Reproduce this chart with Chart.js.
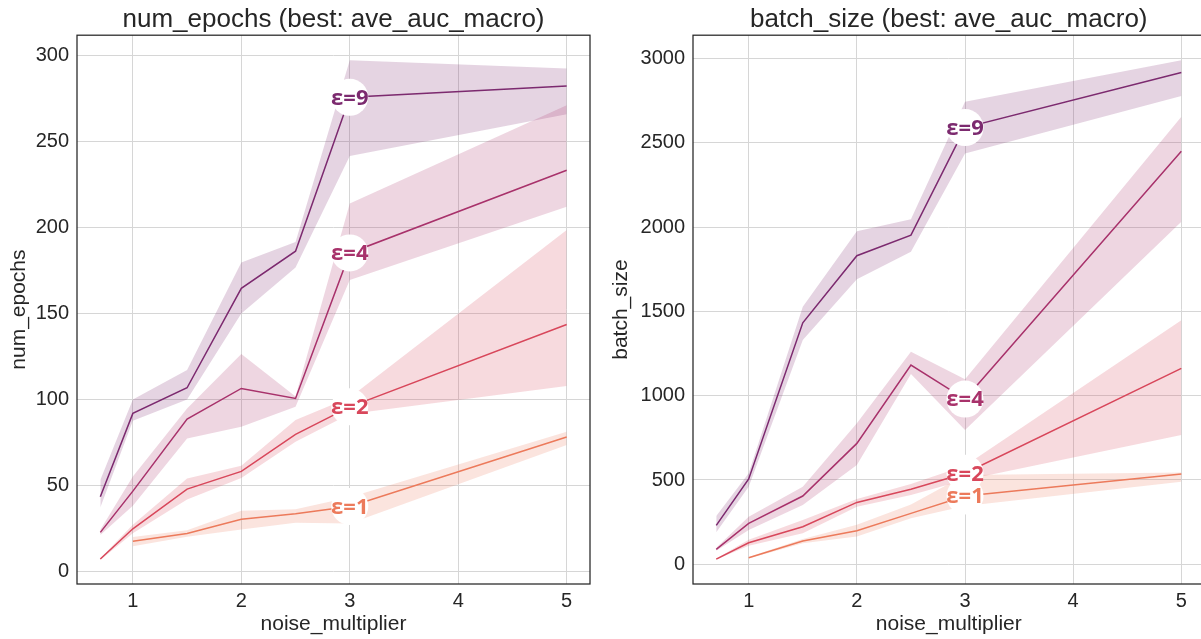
<!DOCTYPE html>
<html>
<head>
<meta charset="utf-8">
<script src="https://cdn.jsdelivr.net/npm/chart.js@4.4.0/dist/chart.umd.min.js"></script>
<style>
    html, body { margin: 0; padding: 0; background: #fff; overflow: hidden; width: 1201px; height: 639px; }
    #c1 { position: absolute; left: 0; top: 0; }
    #c2 { position: absolute; left: 600px; top: 0; }
</style>
</head>
<body>
<canvas id="c1" width="600" height="639"></canvas>
<canvas id="c2" width="620" height="639"></canvas>
<script>
// noise_multiplier values (eps=1 starts at 1)
const noiseAll = [0.7, 1, 1.5, 2, 2.5, 3, 5];
const noiseEps1 = [1, 1.5, 2, 2.5, 3, 5];
const epsLabels = ['ε=1', 'ε=2', 'ε=4', 'ε=9'];
const epsColors = ['#ec7a5b', '#d8475b', '#a8326b', '#7c2a6f'];

// num_epochs: mean + band (lo/hi)
const epochsMean1 = [17.4, 21.9, 30.2, 33.3, 37.6, 78];
const epochsLo1 = [14.5, 20, 24.2, 28.1, 27.7, 73.3];
const epochsHi1 = [19.8, 23.7, 35.1, 35.9, 43, 81];
const epochsMean2 = [7, 24.6, 47.7, 58, 79.5, 95.5, 143.4];
const epochsLo2 = [6.5, 22, 41.7, 54.2, 75.2, 91.3, 107.6];
const epochsHi2 = [7.5, 27, 53.9, 61.2, 87.8, 101, 198.3];
const epochsMean4 = [22.5, 46.5, 88.4, 106.2, 100.4, 185, 233.1];
const epochsLo4 = [21, 38, 77.1, 83.9, 95.5, 169.2, 211.8];
const epochsHi4 = [24, 55, 94.6, 126.2, 101.5, 213.8, 270.9];
const epochsMean9 = [43.2, 91.7, 106.6, 164.4, 186, 275.5, 282];
const epochsLo9 = [37, 87.4, 99.8, 149.8, 176.6, 241.3, 265.7];
const epochsHi9 = [53, 99.8, 116.9, 179.5, 191.3, 297, 292.3];

// batch_size: mean + band (lo/hi)
const batchMean1 = [39, 138, 199, 302, 405, 535];
const batchLo1 = [35, 125, 165, 273, 346, 490];
const batchHi1 = [43, 150, 235, 355, 530, 545];
const batchMean2 = [31, 128, 223, 367, 445, 540, 1162];
const batchLo2 = [28, 110, 184, 342, 411, 500, 767];
const batchHi2 = [34, 146, 263, 387, 476, 585, 1448];
const batchMean4 = [89, 243, 405, 717, 1182, 980, 2450];
const batchLo4 = [80, 203, 352, 589, 1128, 796, 2031];
const batchHi4 = [98, 282, 460, 836, 1260, 1097, 2654];
const batchMean9 = [231, 506, 1432, 1830, 1952, 2590, 2917];
const batchLo9 = [190, 460, 1330, 1690, 1853, 2437, 2778];
const batchHi9 = [286, 540, 1527, 1976, 2047, 2743, 2990];

const epochsTicks = [0, 50, 100, 150, 200, 250, 300];
const batchTicks = [0, 500, 1000, 1500, 2000, 2500, 3000];
const xTicks = [1, 2, 3, 4, 5];
const labelAt = 3;

const ink = '#262626';
const gridColor = '#d6d6d6';
const sans = "'Liberation Sans', Arial, sans-serif";

function pts(xs, ys) {
    return xs.map((x, i) => ({x, y: ys[i]}));
}

function hexA(hex, a) {
    const n = parseInt(hex.slice(1), 16);
    return `rgba(${n >> 16},${(n >> 8) & 255},${n & 255},${a})`;
}

// three datasets per series: band top, band bottom (fill to top), line
function seriesSets(xs, mean, lo, hi, idx) {
    const c = epsColors[idx];
    return [
        {data: pts(xs, hi), borderWidth: 0, pointRadius: 0, fill: false, order: 2},
        {data: pts(xs, lo), borderWidth: 0, pointRadius: 0, fill: '-1', backgroundColor: hexA(c, 0.2), order: 2},
        {data: pts(xs, mean), borderColor: c, borderWidth: 1.5, pointRadius: 0, fill: false, order: 1, epsLabel: epsLabels[idx]},
    ];
}

// white circles with the ε labels at x=3
const epsLabelPlugin = {
    id: 'epsLabels',
    afterDatasetsDraw(chart) {
        const ctx = chart.ctx;
        const xs = chart.scales.x, ys = chart.scales.y;
        chart.data.datasets.forEach(ds => {
            if (!ds.epsLabel) return;
            const p = ds.data.find(d => d.x === labelAt);
            const px = xs.getPixelForValue(p.x), py = ys.getPixelForValue(p.y);
            ctx.save();
            ctx.fillStyle = '#fff';
            ctx.beginPath();
            ctx.arc(px, py, 18.5, 0, Math.PI * 2);
            ctx.fill();
            ctx.font = "bold 22px 'Open Sans', sans-serif";
            ctx.textAlign = 'center';
            ctx.textBaseline = 'middle';
            ctx.fillStyle = ds.borderColor;
            ctx.fillText(ds.epsLabel, px, py + 1);
            ctx.restore();
        });
    }
};

const framePlugin = {
    id: 'frame',
    afterDraw(chart) {
        const a = chart.chartArea, ctx = chart.ctx;
        ctx.save();
        ctx.strokeStyle = ink;
        ctx.lineWidth = 1.25;
        ctx.strokeRect(a.left, a.top, a.right - a.left, a.bottom - a.top);
        ctx.restore();
    }
};

function makeChart(id, opts) {
    return new Chart(document.getElementById(id), {
        type: 'line',
        data: {datasets: opts.datasets},
        options: {
            responsive: false,
            animation: false,
            layout: {padding: {left: 0, right: opts.padRight, top: 0, bottom: 0}},
            plugins: {
                legend: {display: false},
                tooltip: {enabled: false},
                title: {
                    display: true, text: opts.title, color: ink, fullSize: false,
                    font: {family: sans, size: 26, weight: 'normal'}, padding: {top: 4, bottom: 0}
                },
            },
            scales: {
                x: {
                    type: 'linear', min: 0.485, max: 5.215,
                    afterBuildTicks: ax => { ax.ticks = xTicks.map(v => ({value: v})); },
                    afterFit: ax => { ax.height = 55; },
                    grid: {color: gridColor, drawTicks: false},
                    border: {display: false},
                    ticks: {color: ink, font: {family: sans, size: 20}, padding: 5, callback: v => String(v)},
                    title: {display: true, text: 'noise_multiplier', color: ink, font: {family: sans, size: 21}, padding: {top: 0, bottom: 2}},
                },
                y: {
                    type: 'linear', min: opts.yMin, max: opts.yMax,
                    afterBuildTicks: ax => { ax.ticks = opts.yTicks.map(v => ({value: v})); },
                    afterFit: ax => { ax.width = opts.yWidth; },
                    grid: {color: gridColor, drawTicks: false},
                    border: {display: false},
                    ticks: {color: ink, font: {family: sans, size: 20}, padding: 8, callback: v => String(v)},
                    title: {display: true, text: opts.yTitle, color: ink, font: {family: sans, size: 21}, padding: {top: opts.yTitlePad, bottom: 0}},
                }
            }
        },
        plugins: [epsLabelPlugin, framePlugin]
    });
}

makeChart('c1', {
    title: 'num_epochs (best: ave_auc_macro)',
    yTitle: 'num_epochs',
    yMin: -7.5, yMax: 311.6, yTicks: epochsTicks,
    yWidth: 77, yTitlePad: 7, padRight: 10,
    datasets: [
        ...seriesSets(noiseEps1, epochsMean1, epochsLo1, epochsHi1, 0),
        ...seriesSets(noiseAll, epochsMean2, epochsLo2, epochsHi2, 1),
        ...seriesSets(noiseAll, epochsMean4, epochsLo4, epochsHi4, 2),
        ...seriesSets(noiseAll, epochsMean9, epochsLo9, epochsHi9, 3),
    ]
});

makeChart('c2', {
    title: 'batch_size (best: ave_auc_macro)',
    yTitle: 'batch_size',
    yMin: -116.8, yMax: 3138, yTicks: batchTicks,
    yWidth: 93, yTitlePad: 9, padRight: 15.4,
    datasets: [
        ...seriesSets(noiseEps1, batchMean1, batchLo1, batchHi1, 0),
        ...seriesSets(noiseAll, batchMean2, batchLo2, batchHi2, 1),
        ...seriesSets(noiseAll, batchMean4, batchLo4, batchHi4, 2),
        ...seriesSets(noiseAll, batchMean9, batchLo9, batchHi9, 3),
    ]
});
</script>
</body>
</html>
